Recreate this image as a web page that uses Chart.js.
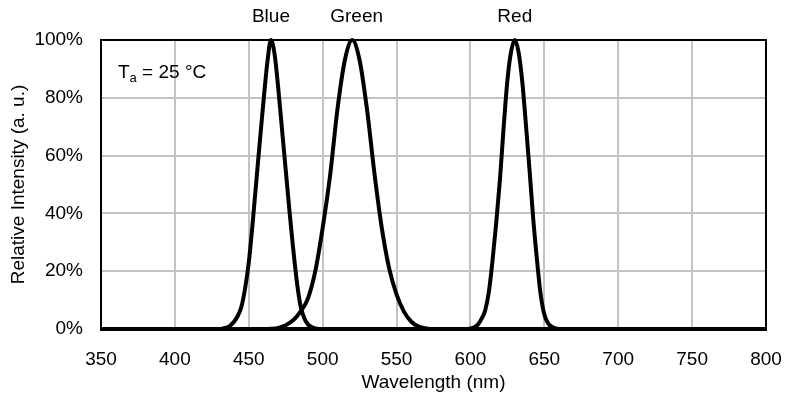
<!DOCTYPE html>
<html>
<head>
<meta charset="utf-8">
<script src="https://cdn.jsdelivr.net/npm/chart.js@4"></script>
<style>
  html, body { margin: 0; padding: 0; background: #fff; }
  #wrap { width: 787px; height: 403px; }
</style>
</head>
<body>
<div id="wrap"><canvas id="chart"></canvas></div>
<script>
// spectra (wavelength nm, relative intensity %)
const blueWl = [350, 430, 432.5, 435, 437.5, 440, 442.5, 445, 447.5, 450, 452.5, 455, 457.5, 460, 462.5, 465,
  467.5, 470, 472.5, 475, 477.5, 480, 482.5, 485, 487.5, 490, 492.5, 495, 500, 800];
const blueVal = [0, 0, 0.2, 0.5, 1.2, 2.5, 4.5, 7.7, 14, 23, 36, 50.5, 65, 79, 92, 100,
  95, 83, 69, 55, 41, 28, 16.5, 8, 3.8, 1.6, 0.7, 0.2, 0, 0];

const greenWl = [350, 460, 465, 470, 475, 480, 485, 490, 495, 500, 505, 510, 515, 520,
  525, 530, 535, 540, 545, 550, 555, 560, 565, 570, 575, 800];
const greenVal = [0, 0, 0.1, 0.4, 1.3, 3, 6, 10.5, 20, 35, 53, 76, 93, 100,
  93, 76, 54, 35, 21, 12, 6, 2.5, 0.8, 0.2, 0, 0];

const redWl = [350, 597.5, 600, 602.5, 605, 607.5, 610, 612.5, 615, 617.5, 620, 622.5, 625, 627.5, 630,
  632.5, 635, 637.5, 640, 642.5, 645, 647.5, 650, 652.5, 655, 657.5, 660, 800];
const redVal = [0, 0, 0.2, 0.6, 1.5, 3.5, 6.5, 13, 24, 37, 52, 70, 86, 96, 100,
  96, 86, 71, 55, 38, 24, 12, 5, 2, 0.8, 0.2, 0, 0];

const seriesNames = ["Blue", "Green", "Red"];
const labelWl = [465, 523, 630];

const xTicks = [350, 400, 450, 500, 550, 600, 650, 700, 750, 800];
const yTicks = [0, 20, 40, 60, 80, 100];

const FONT = "'Liberation Sans', Arial, sans-serif";
const gridColor = "#c3c3c3";

function toPoints(xs, ys) {
  return xs.map((x, i) => ({ x, y: ys[i] }));
}

const frameAndNotes = {
  id: "frameAndNotes",
  afterDatasetsDraw(chart) {
    const { ctx, chartArea, scales } = chart;
    ctx.save();
    ctx.strokeStyle = "#000";
    ctx.lineWidth = 2;
    ctx.strokeRect(chartArea.left, chartArea.top, chartArea.right - chartArea.left, chartArea.bottom - chartArea.top);

    ctx.fillStyle = "#000";
    ctx.font = "19px " + FONT;
    ctx.textAlign = "center";
    ctx.textBaseline = "middle";
    seriesNames.forEach((name, i) => {
      ctx.fillText(name, scales.x.getPixelForValue(labelWl[i]), 17);
    });

    // T_a = 25 °C
    let x = chartArea.left + 17;
    const y = chartArea.top + 33;
    ctx.textAlign = "left";
    ctx.fillText("T", x, y);
    x += ctx.measureText("T").width;
    ctx.font = "13px " + FONT;
    ctx.fillText("a", x, y + 5);
    x += ctx.measureText("a").width;
    ctx.font = "19px " + FONT;
    ctx.fillText(" = 25 °C", x, y);
    ctx.restore();
  }
};

const lineStyle = {
  borderColor: "#000",
  backgroundColor: "#000",
  borderWidth: 4,
  pointRadius: 0,
  cubicInterpolationMode: "monotone",
  clip: false
};

new Chart(document.getElementById("chart"), {
  type: "line",
  data: {
    datasets: [
      { label: seriesNames[0], data: toPoints(blueWl, blueVal), ...lineStyle },
      { label: seriesNames[1], data: toPoints(greenWl, greenVal), ...lineStyle },
      { label: seriesNames[2], data: toPoints(redWl, redVal), ...lineStyle }
    ]
  },
  options: {
    responsive: true,
    maintainAspectRatio: false,
    animation: false,
    layout: { padding: { top: 40, right: 21, left: 0, bottom: 0 } },
    plugins: {
      legend: { display: false },
      tooltip: { enabled: false }
    },
    scales: {
      x: {
        type: "linear",
        min: 350,
        max: 800,
        afterBuildTicks: (s) => { s.ticks = xTicks.map((v) => ({ value: v })); },
        afterFit: (s) => { s.height = 74; s.paddingLeft = 0; s.paddingRight = 0; },
        ticks: { color: "#000", font: { family: FONT, size: 19 }, padding: 19, maxRotation: 0 },
        grid: { color: gridColor, lineWidth: 2, drawTicks: false },
        border: { color: "#000", width: 3 },
        title: { display: true, text: "Wavelength (nm)", color: "#000", font: { family: FONT, size: 19 }, padding: { top: 9, bottom: 9 } }
      },
      y: {
        min: 0,
        max: 100,
        afterBuildTicks: (s) => { s.ticks = yTicks.map((v) => ({ value: v })); },
        afterFit: (s) => { s.width = 101; s.paddingTop = 0; s.paddingBottom = 0; },
        ticks: { color: "#000", font: { family: FONT, size: 19 }, padding: 18, callback: (v) => v + "%" },
        grid: { color: gridColor, lineWidth: 2, drawTicks: false },
        border: { color: "#000", width: 2 },
        title: { display: true, text: "Relative Intensity (a. u.)", color: "#000", font: { family: FONT, size: 19 }, padding: { top: 7, bottom: 7 } }
      }
    }
  },
  plugins: [frameAndNotes]
});
</script>
</body>
</html>
